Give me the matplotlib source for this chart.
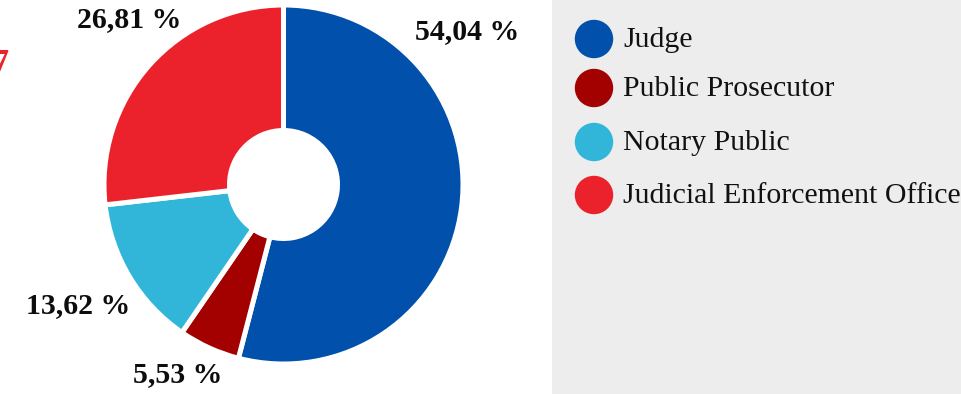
import matplotlib
matplotlib.use("Agg")
import matplotlib.pyplot as plt
from matplotlib.patches import Circle

# Share of legal professions
categories = ["Judge", "Public Prosecutor", "Notary Public", "Judicial Enforcement Officer"]
shares = [54.04, 5.53, 13.62, 26.81]
share_labels = ["54,04 %", "5,53 %", "13,62 %", "26,81 %"]
colors = ["#0050AC", "#A30000", "#31B6DA", "#EB222B"]

W, H = 961, 394
DPI = 100
fig = plt.figure(figsize=(W / DPI, H / DPI), dpi=DPI, facecolor="white")

def px_axes(x0, y0, w, h):
    """Axes placed by pixel box (top-left origin)."""
    return fig.add_axes([x0 / W, 1 - (y0 + h) / H, w / W, h / H])

# Grey legend panel
panel = px_axes(552, 0, W - 552, H)
panel.set_facecolor("#ECEDEC")
panel.set_xlim(0, W - 552)
panel.set_ylim(H, 0)
panel.axis("off")
panel.add_patch(plt.Rectangle((0, 0), W - 552, H, color="#ECEDEC", zorder=0))

# Donut
cx, cy = 283.5, 184.5
half = 182
ax = px_axes(cx - half, cy - half, 2 * half, 2 * half)
ax.set_xlim(-half, half)
ax.set_ylim(-half, half)
ax.set_aspect("equal")
ax.axis("off")

gap_px = 5
outer = 177 + gap_px / 2
inner = 56.5 - gap_px / 2
ax.pie(shares, colors=colors, startangle=90, counterclock=False,
       radius=outer,
       wedgeprops=dict(width=outer - inner, edgecolor="white",
                       linewidth=gap_px * 72 / DPI))
ax.set_xlim(-half, half)
ax.set_ylim(-half, half)

# Value labels
label_pos = [(467, 32), (178, 375), (78, 306), (129.5, 20)]
for text, (x, y) in zip(share_labels, label_pos):
    fig.text(x / W, 1 - y / H, text, ha="center", va="center",
             fontsize=21.5, fontweight="bold", family="Liberation Serif",
             color="#0d0d0d")

# Edge of a red mark at the left border
fig.text(-9 / W, 1 - 66 / H, "7", ha="left", va="center", fontsize=26,
         fontweight="bold", family="Liberation Serif", color="#EB222B")

# Legend
legend_y = [39, 88, 142, 195]
for name, col, y in zip(categories, colors, legend_y):
    panel.add_patch(Circle((594 - 552, y), 18.5, color=col, zorder=2))
    panel.text(623 - 552, y + 1, name, ha="left", va="center", fontsize=21.5,
               family="Liberation Serif", color="#111111", zorder=3)

fig.savefig("out.png", dpi=DPI, facecolor="white")
